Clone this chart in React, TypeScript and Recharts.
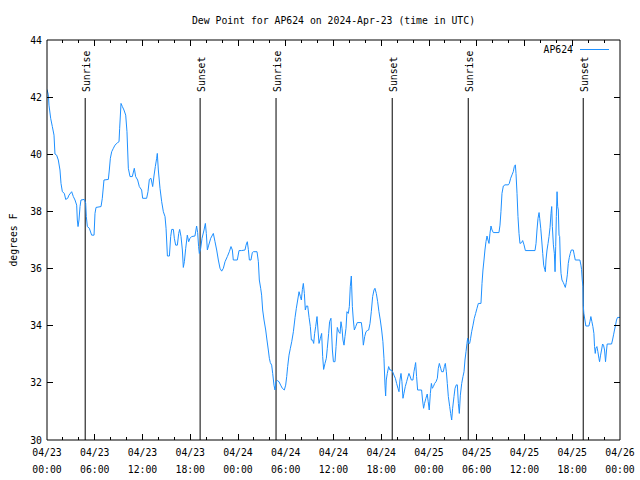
import React from 'react';
import { LineChart, Line, XAxis, YAxis, ReferenceLine } from 'recharts';

const FONT = "'DejaVu Sans Mono', 'Liberation Mono', monospace";
const FS = 9.8;
const LINE_COLOR = '#1e90ff';

const chartTitle = 'Dew Point for AP624 on 2024-Apr-23 (time in UTC)';
const seriesName = 'AP624';
const yAxisTitle = 'degrees F';

// [hours since 2024-04-23 00:00 UTC, dew point °F]
const day1: [number, number][] = [
  [0, 42.27], [0.17, 42.08], [0.25, 41.72], [0.46, 41.26], [0.67, 40.97], [0.88, 40.67], [1.0, 40.01], [1.21, 39.97],
  [1.42, 39.8], [1.63, 39.45], [1.76, 38.98], [1.93, 38.69], [2.18, 38.63], [2.35, 38.42], [2.6, 38.46], [2.76, 38.57],
  [3.1, 38.69], [3.31, 38.52], [3.52, 38.4], [3.73, 38.22], [3.81, 37.7], [3.9, 37.47], [4.02, 37.7], [4.15, 38.17],
  [4.27, 38.4], [4.69, 38.42], [4.86, 38.28], [4.94, 37.82], [5.07, 37.47], [5.32, 37.41], [5.61, 37.17], [5.91, 37.17],
  [6.03, 37.93], [6.16, 38.14], [6.79, 38.17], [6.95, 38.46], [7.16, 39.1], [7.71, 39.12], [7.83, 39.45], [7.96, 39.86],
  [8.13, 40.09], [8.34, 40.21], [8.54, 40.32], [8.88, 40.41], [9.05, 40.44], [9.13, 40.91], [9.3, 41.78], [9.47, 41.67],
  [9.67, 41.55], [9.89, 41.37], [10.05, 40.79], [10.22, 39.51], [10.43, 39.22], [10.72, 39.22], [10.97, 39.51], [11.14, 39.22],
  [11.39, 39.1], [11.6, 38.87], [11.89, 38.75], [12.02, 38.46], [12.52, 38.46], [12.69, 38.69], [12.86, 39.12], [13.07, 39.16],
  [13.28, 38.87], [13.44, 39.24], [13.61, 39.57], [13.78, 39.86], [13.86, 40.03], [13.99, 39.45], [14.2, 38.81], [14.41, 38.34],
  [14.62, 37.99], [14.83, 37.82], [14.96, 37.41], [15.13, 36.44], [15.38, 36.44], [15.54, 37.12], [15.67, 37.37], [15.88, 37.37],
  [16.0, 37.06], [16.17, 36.82], [16.38, 36.82], [16.55, 37.23], [16.67, 37.37], [16.84, 37.12], [17.01, 36.65], [17.13, 36.04],
  [17.26, 36.24], [17.43, 36.71], [17.63, 37.17], [17.8, 36.94], [17.97, 37.06], [18.17, 37.12], [18.59, 37.14], [18.8, 37.49],
  [18.93, 37.26], [19.05, 36.77], [19.14, 36.53], [19.31, 36.71], [19.48, 37.06], [19.73, 37.35], [19.9, 37.58], [20.02, 37.23],
  [20.15, 36.65], [20.32, 36.82], [20.57, 37.06], [20.9, 37.23], [21.11, 36.94], [21.32, 36.65], [21.53, 36.3], [21.74, 36.01],
  [21.95, 35.91], [22.16, 36.01], [22.37, 36.24], [22.66, 36.42], [22.91, 36.59], [23.12, 36.77], [23.29, 36.65], [23.41, 36.3],
  [23.91, 36.3],
];

const day2: [number, number][] = [
  [24.13, 36.63], [24.46, 36.63], [24.88, 36.65], [25.01, 36.82], [25.17, 36.94], [25.3, 36.67], [25.43, 36.3], [25.63, 36.3],
  [25.8, 36.56], [25.93, 36.59], [26.39, 36.59], [26.56, 36.24], [26.68, 35.6], [26.85, 35.31], [26.97, 35.07], [27.1, 34.55],
  [27.27, 34.2], [27.48, 33.85], [27.64, 33.5], [27.81, 33.15], [27.94, 32.86], [28.06, 32.71], [28.23, 32.62], [28.36, 32.33],
  [28.52, 31.92], [28.65, 31.75], [28.77, 32.04], [28.94, 32.08], [29.15, 32.04], [29.36, 31.92], [29.57, 31.81], [29.82, 31.75],
  [29.99, 31.92], [30.12, 32.22], [30.24, 32.57], [30.41, 32.97], [30.58, 33.21], [30.75, 33.44], [30.96, 33.79], [31.17, 34.29],
  [31.33, 34.61], [31.5, 34.9], [31.67, 35.19], [31.84, 35.02], [31.96, 34.9], [32.09, 35.27], [32.21, 35.48], [32.34, 35.13],
  [32.46, 34.55], [32.59, 34.69], [32.76, 34.69], [32.93, 34.29], [33.09, 33.97], [33.22, 33.5], [33.38, 33.5], [33.51, 33.38],
  [33.63, 33.73], [33.76, 33.97], [33.93, 34.32], [34.05, 33.85], [34.18, 33.38], [34.35, 33.56], [34.51, 33.73], [34.64, 32.92],
  [34.76, 32.47], [34.93, 32.68], [35.1, 32.86], [35.22, 33.21], [35.39, 33.73], [35.51, 34.14], [35.68, 34.26], [35.86, 33.15],
  [35.99, 32.74], [36.19, 32.74], [36.32, 33.27], [36.48, 33.94], [36.65, 33.79], [36.82, 33.73], [36.94, 34.14], [37.07, 33.91],
  [37.19, 33.5], [37.32, 33.32], [37.44, 33.62], [37.57, 33.91], [37.69, 34.49], [37.86, 34.43], [37.99, 34.67], [38.11, 35.37],
  [38.24, 35.74], [38.37, 34.67], [38.49, 34.2], [38.62, 33.85], [38.79, 33.97], [38.99, 34.11], [39.5, 34.11], [39.62, 33.85],
  [39.75, 33.32], [39.92, 33.62], [40.08, 33.79], [40.25, 33.83], [40.42, 33.85], [40.59, 34.08], [40.75, 34.49], [40.92, 35.02],
  [41.09, 35.25], [41.21, 35.31], [41.38, 35.13], [41.55, 34.84], [41.71, 34.49], [41.88, 34.2], [42.05, 33.85], [42.21, 33.44],
  [42.34, 32.86], [42.47, 31.92], [42.55, 31.54], [42.63, 32.1], [42.76, 32.33], [42.93, 32.57], [43.09, 32.45], [43.26, 32.45],
  [43.43, 32.39], [43.6, 32.27], [43.77, 32.16], [43.93, 31.98], [44.1, 31.81], [44.23, 31.69], [44.35, 32.1], [44.48, 32.33],
  [44.6, 32.04], [44.73, 31.46], [44.85, 31.63], [45.02, 31.87], [45.19, 32.04], [45.36, 32.22], [45.48, 32.33], [45.61, 32.24],
  [45.78, 32.1], [45.98, 32.1], [46.11, 32.39], [46.23, 32.57], [46.32, 32.71], [46.44, 32.22], [46.57, 31.75], [47.07, 31.75],
  [47.19, 31.4], [47.32, 31.11], [47.44, 31.28], [47.61, 31.46], [47.78, 31.61], [47.9, 31.34],
];

const day3: [number, number][] = [
  [48.03, 31.05], [48.17, 31.63], [48.3, 31.98], [48.42, 31.81], [48.55, 31.87], [48.71, 31.98], [48.88, 32.04], [49.05, 32.16],
  [49.17, 32.51], [49.3, 32.68], [49.47, 32.51], [49.59, 32.39], [49.8, 32.39], [49.93, 32.57], [50.05, 32.68], [50.18, 32.39],
  [50.3, 31.98], [50.43, 31.52], [50.6, 31.17], [50.72, 30.93], [50.85, 30.7], [50.97, 31.11], [51.14, 31.52], [51.27, 31.81],
  [51.43, 31.93], [51.56, 31.93], [51.69, 31.28], [51.81, 30.93], [51.94, 31.57], [52.11, 31.98], [52.27, 32.22], [52.4, 32.39],
  [52.52, 32.8], [52.65, 33.09], [52.77, 33.38], [52.86, 33.56], [52.98, 33.38], [53.11, 33.38], [53.23, 33.56], [53.36, 33.79],
  [53.53, 34.02], [53.69, 34.26], [53.86, 34.43], [54.03, 34.61], [54.2, 34.78], [54.53, 34.78], [54.66, 35.48], [54.78, 35.95],
  [54.91, 36.3], [55.03, 36.65], [55.16, 36.94], [55.29, 37.14], [55.41, 37.0], [55.54, 36.88], [55.66, 37.23], [55.79, 37.49],
  [55.92, 37.35], [56.08, 37.26], [56.79, 37.26], [56.92, 37.52], [57.04, 37.99], [57.17, 38.63], [57.34, 38.89], [57.55, 38.93],
  [57.97, 38.93], [58.09, 38.98], [58.26, 39.16], [58.43, 39.28], [58.59, 39.39], [58.72, 39.57], [58.85, 39.63], [58.93, 39.33],
  [59.06, 38.63], [59.18, 37.82], [59.31, 37.23], [59.43, 36.88], [59.64, 36.91], [59.77, 36.98], [59.94, 36.83], [60.11, 36.63],
  [61.32, 36.63], [61.45, 36.88], [61.57, 37.35], [61.7, 37.76], [61.83, 37.96], [61.91, 37.76], [62.04, 37.41], [62.16, 37.0],
  [62.29, 36.53], [62.41, 36.12], [62.54, 35.97], [62.62, 35.89], [62.7, 36.3], [62.83, 36.65], [62.96, 36.88], [63.08, 37.12],
  [63.21, 37.44], [63.33, 37.93], [63.42, 38.17], [63.5, 37.47], [63.63, 36.83], [63.75, 36.53], [63.84, 35.89], [63.92, 36.77],
  [64.0, 37.82], [64.09, 38.69], [64.17, 38.17], [64.25, 38.05], [64.34, 37.17], [64.42, 37.12], [64.5, 36.3], [64.59, 35.83],
  [64.71, 35.6], [64.88, 35.51], [65.0, 35.43], [65.13, 35.34], [65.25, 35.51], [65.38, 35.78], [65.5, 36.18], [65.63, 36.39],
  [65.75, 36.53], [65.88, 36.65], [66.13, 36.65], [66.25, 36.48], [66.38, 36.3], [66.96, 36.3], [67.09, 36.12], [67.17, 35.97],
  [67.26, 35.6], [67.34, 35.37], [67.38, 34.72], [67.46, 34.43], [67.59, 34.2], [67.71, 33.99], [68.09, 33.99], [68.22, 34.14],
  [68.34, 34.32], [68.47, 34.14], [68.59, 33.97], [68.72, 33.73], [68.8, 33.27], [68.89, 33.03], [68.97, 33.21], [69.1, 33.27],
  [69.22, 33.09], [69.35, 32.86], [69.43, 32.74], [69.56, 32.97], [69.68, 33.15], [69.81, 33.36], [69.93, 33.32], [70.06, 33.15],
  [70.18, 32.74], [70.31, 33.15], [70.39, 33.36], [70.94, 33.36], [71.06, 33.5], [71.19, 33.68], [71.31, 33.85], [71.44, 34.02],
  [71.56, 34.2], [71.69, 34.29], [72.0, 34.29],
];

const xTickHours = [0, 2, 4, 6, 8, 10, 12, 14, 16, 18, 20, 22, 24, 26, 28, 30, 32, 34, 36, 38, 40, 42, 44, 46, 48, 50, 52, 54, 56, 58, 60, 62, 64, 66, 68, 70, 72];
const xTickDates = ['04/23', '04/23', '04/23', '04/23', '04/24', '04/24', '04/24', '04/24', '04/25', '04/25', '04/25', '04/25', '04/26'];
const xTickTimes = ['00:00', '06:00', '12:00', '18:00', '00:00', '06:00', '12:00', '18:00', '00:00', '06:00', '12:00', '18:00', '00:00'];
const yTicks = [30, 32, 34, 36, 38, 40, 42, 44];

const sunEvents: { name: string; hour: number }[] = [
  { name: 'Sunrise', hour: 4.8 },
  { name: 'Sunset', hour: 19.24 },
  { name: 'Sunrise', hour: 28.78 },
  { name: 'Sunset', hour: 43.38 },
  { name: 'Sunrise', hour: 52.93 },
  { name: 'Sunset', hour: 67.38 },
];
const sunLineTop = 41.97;

const data = [...day1, ...day2, ...day3].map(([h, v]) => ({ h, v }));

const textProps = { fontFamily: FONT, fontSize: FS, fill: '#000' };

const BottomTick = (props: any) => {
  const { x, y, payload } = props;
  const h = payload.value as number;
  const major = h % 6 === 0;
  const i = h / 6;
  return (
    <g>
      {h > 0 && h < 72 && (
        <line x1={x} y1={y} x2={x} y2={y - (major ? 6 : 3)} stroke="#000" shapeRendering="crispEdges" />
      )}
      {major && (
        <>
          <text x={x} y={y + 16} textAnchor="middle" {...textProps}>{xTickDates[i]}</text>
          <text x={x} y={y + 33} textAnchor="middle" {...textProps}>{xTickTimes[i]}</text>
        </>
      )}
    </g>
  );
};

const TopTick = (props: any) => {
  const { x, y, payload } = props;
  const h = payload.value as number;
  const major = h % 6 === 0;
  if (h <= 0 || h >= 72) return <g />;
  return <line x1={x} y1={y} x2={x} y2={y + (major ? 6 : 3)} stroke="#000" shapeRendering="crispEdges" />;
};

const LeftTick = (props: any) => {
  const { x, y, payload } = props;
  const v = payload.value as number;
  return (
    <g>
      {v > 30 && v < 44 && <line x1={x} y1={y} x2={x + 6} y2={y} stroke="#000" shapeRendering="crispEdges" />}
      <text x={x - 5} y={y + 3.5} textAnchor="end" {...textProps}>{v}</text>
    </g>
  );
};

const RightTick = (props: any) => {
  const { x, y, payload } = props;
  const v = payload.value as number;
  if (v <= 30 || v >= 44) return <g />;
  return <line x1={x} y1={y} x2={x - 6} y2={y} stroke="#000" shapeRendering="crispEdges" />;
};

// Title plus the series key (drawn together as the top-axis label)
const TitleLabel = () => (
  <g>
    <text x={333.5} y={24} textAnchor="middle" {...textProps}>{chartTitle}</text>
    <text x={573} y={53} textAnchor="end" {...textProps}>{seriesName}</text>
    <line x1={580} y1={49.5} x2={609} y2={49.5} stroke={LINE_COLOR} strokeWidth={1} />
  </g>
);

const YTitleLabel = () => (
  <text x={13} y={240} textAnchor="middle" transform="rotate(-90, 13, 240)" dominantBaseline="central" {...textProps}>
    {yAxisTitle}
  </text>
);

const makeSunLabel = (name: string) => (props: any) => {
  const vb = props.viewBox || {};
  const x = (vb.x ?? 0) + 1;
  const y = (vb.y ?? 0) - 6;
  return (
    <text x={x} y={y} transform={`rotate(-90, ${x}, ${y})`} textAnchor="start" dominantBaseline="central" {...textProps}>
      {name}
    </text>
  );
};

export default function App() {
  return (
    <div style={{ position: 'absolute', left: 0, top: 0, width: 640, height: 480, background: '#fff' }}>
      <LineChart width={640} height={480} data={data} margin={{ top: 10, right: 0, bottom: 0, left: 0 }}>
        <XAxis
          dataKey="h"
          type="number"
          domain={[0, 72]}
          ticks={xTickHours}
          interval={0}
          height={40}
          tickSize={0}
          tickMargin={0}
          tickLine={false}
          axisLine={{ stroke: '#000' }}
          tick={<BottomTick />}
          allowDataOverflow
        />
        <XAxis
          xAxisId="top"
          orientation="top"
          dataKey="h"
          type="number"
          domain={[0, 72]}
          ticks={xTickHours}
          interval={0}
          height={30}
          tickSize={0}
          tickMargin={0}
          tickLine={false}
          axisLine={{ stroke: '#000' }}
          tick={<TopTick />}
          label={<TitleLabel />}
          allowDataOverflow
        />
        <YAxis
          type="number"
          domain={[30, 44]}
          ticks={yTicks}
          interval={0}
          width={47}
          tickSize={0}
          tickMargin={0}
          tickLine={false}
          axisLine={{ stroke: '#000' }}
          tick={<LeftTick />}
          label={<YTitleLabel />}
          allowDataOverflow
        />
        <YAxis
          yAxisId="right"
          orientation="right"
          type="number"
          domain={[30, 44]}
          ticks={yTicks}
          interval={0}
          width={20}
          tickSize={0}
          tickMargin={0}
          tickLine={false}
          axisLine={{ stroke: '#000' }}
          tick={<RightTick />}
          allowDataOverflow
        />
        {sunEvents.map((e, i) => (
          <ReferenceLine
            key={i}
            segment={[{ x: e.hour, y: sunLineTop }, { x: e.hour, y: 30 }]}
            stroke="#000"
            strokeWidth={1}
            label={makeSunLabel(e.name)}
          />
        ))}
        <Line
          dataKey="v"
          name={seriesName}
          type="linear"
          stroke={LINE_COLOR}
          strokeWidth={1}
          dot={false}
          isAnimationActive={false}
        />
      </LineChart>
    </div>
  );
}
